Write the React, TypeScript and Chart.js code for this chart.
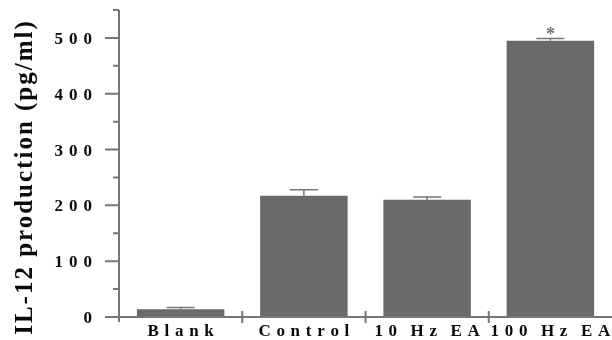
import React, { useEffect, useRef } from 'react';
import { Chart, registerables } from 'chart.js';

Chart.register(...registerables);

const categories = ['Blank', 'Control', '10 Hz EA', '100 Hz EA'];
const values = [14, 217, 210, 495];
const errors = [3, 11, 5, 4];
const significance = ['', '', '', '*'];
const yTickLabels = [0, 100, 200, 300, 400, 500];
const yTitle = 'IL-12 production (pg/ml)';

const AXIS_COLOR = '#767676';
const BAR_COLOR = '#6a6a6a';
const TEXT_COLOR = '#0a0a0a';
const FONT = '"Liberation Serif", "Times New Roman", serif';

function spacedWidth(ctx: CanvasRenderingContext2D, text: string, gap: number, wordGap: number) {
  const words = text.split(' ');
  let w = 0;
  words.forEach((word, wi) => {
    for (let k = 0; k < word.length; k++) {
      w += ctx.measureText(word[k]).width;
      if (k < word.length - 1) w += gap;
    }
    if (wi < words.length - 1) w += wordGap;
  });
  return w;
}

function drawSpaced(ctx: CanvasRenderingContext2D, text: string, x: number, y: number, gap: number, wordGap: number) {
  const words = text.split(' ');
  let cx = x;
  words.forEach((word, wi) => {
    for (let k = 0; k < word.length; k++) {
      ctx.fillText(word[k], cx, y);
      cx += ctx.measureText(word[k]).width;
      if (k < word.length - 1) cx += gap;
    }
    if (wi < words.length - 1) cx += wordGap;
  });
}

const paperPlugin = {
  id: 'paperAxes',
  afterDraw(chart: any) {
    const { ctx, chartArea: a, scales } = chart;
    const xs = scales.x;
    const ys = scales.y;
    const y0 = ys.getPixelForValue(0);
    ctx.save();
    ctx.strokeStyle = AXIS_COLOR;
    ctx.lineWidth = 2;
    ctx.beginPath();
    // y axis line
    ctx.moveTo(a.left, ys.getPixelForValue(ys.max));
    ctx.lineTo(a.left, y0 + 5);
    // x axis line
    ctx.moveTo(a.left, y0);
    ctx.lineTo(a.right, y0);
    // y ticks (major and minor)
    for (let v = 0; v <= ys.max; v += 50) {
      const py = ys.getPixelForValue(v);
      const major = yTickLabels.includes(v);
      ctx.moveTo(a.left - (major ? 14 : 6), py);
      ctx.lineTo(a.left, py);
    }
    // category separators
    for (let i = 1; i < categories.length; i++) {
      const px = (xs.getPixelForValue(i - 1) + xs.getPixelForValue(i)) / 2;
      ctx.moveTo(px, y0 - 6);
      ctx.lineTo(px, y0 + 6);
    }
    ctx.stroke();

    // error bars
    ctx.lineWidth = 1.5;
    ctx.beginPath();
    values.forEach((v, i) => {
      const px = xs.getPixelForValue(i);
      const top = ys.getPixelForValue(v + errors[i]);
      ctx.moveTo(px, ys.getPixelForValue(v));
      ctx.lineTo(px, top);
      ctx.moveTo(px - 14, top);
      ctx.lineTo(px + 14, top);
    });
    ctx.stroke();

    // significance marks
    ctx.fillStyle = '#707070';
    ctx.font = `bold 18px ${FONT}`;
    ctx.textAlign = 'center';
    ctx.textBaseline = 'alphabetic';
    significance.forEach((s, i) => {
      if (!s) return;
      const px = xs.getPixelForValue(i);
      const top = ys.getPixelForValue(values[i] + errors[i]);
      ctx.fillText(s, px, top + 2);
    });

    // tick labels
    ctx.fillStyle = TEXT_COLOR;
    ctx.font = `bold 17px ${FONT}`;
    ctx.textAlign = 'left';
    yTickLabels.forEach((v) => {
      const t = String(v);
      const w = spacedWidth(ctx, t, 6, 6);
      drawSpaced(ctx, t, a.left - 27 - w, ys.getPixelForValue(v) + 6, 6, 6);
    });
    categories.forEach((c, i) => {
      const w = spacedWidth(ctx, c, 5.7, 13.5);
      drawSpaced(ctx, c, xs.getPixelForValue(i) - w / 2, y0 + 19, 5.7, 13.5);
    });

    // y axis title
    ctx.save();
    ctx.letterSpacing = '2px';
    ctx.font = `bold 25px ${FONT}`;
    ctx.translate(32, 177);
    ctx.rotate(-Math.PI / 2);
    ctx.textAlign = 'center';
    ctx.fillText(yTitle, 0, 0);
    ctx.restore();
    ctx.restore();
  },
};

export default function App() {
  const ref = useRef<HTMLCanvasElement>(null);
  useEffect(() => {
    if (!ref.current) return;
    const chart = new Chart(ref.current, {
      type: 'bar',
      data: {
        labels: categories,
        datasets: [
          {
            data: values,
            backgroundColor: BAR_COLOR,
            borderWidth: 0,
            barPercentage: 0.71,
            categoryPercentage: 1,
          },
        ],
      },
      options: {
        animation: false,
        responsive: false,
        maintainAspectRatio: false,
        layout: { padding: { top: 10, right: 0, bottom: 0, left: 0 } },
        plugins: { legend: { display: false }, tooltip: { enabled: false } },
        scales: {
          x: {
            grid: { display: false, drawTicks: false },
            border: { display: false },
            ticks: { display: false },
            afterFit: (s: any) => {
              s.height = 23;
            },
          },
          y: {
            min: 0,
            max: 550,
            grid: { display: false, drawTicks: false },
            border: { display: false },
            ticks: { display: false, stepSize: 50 },
            afterFit: (s: any) => {
              s.width = 119;
            },
          },
        },
      },
      plugins: [paperPlugin],
    });
    return () => chart.destroy();
  }, []);
  return (
    <div style={{ position: 'fixed', left: 0, top: 0, width: 612, height: 340, background: '#fff' }}>
      <canvas ref={ref} width={612} height={340} style={{ width: 612, height: 340 }} />
    </div>
  );
}
